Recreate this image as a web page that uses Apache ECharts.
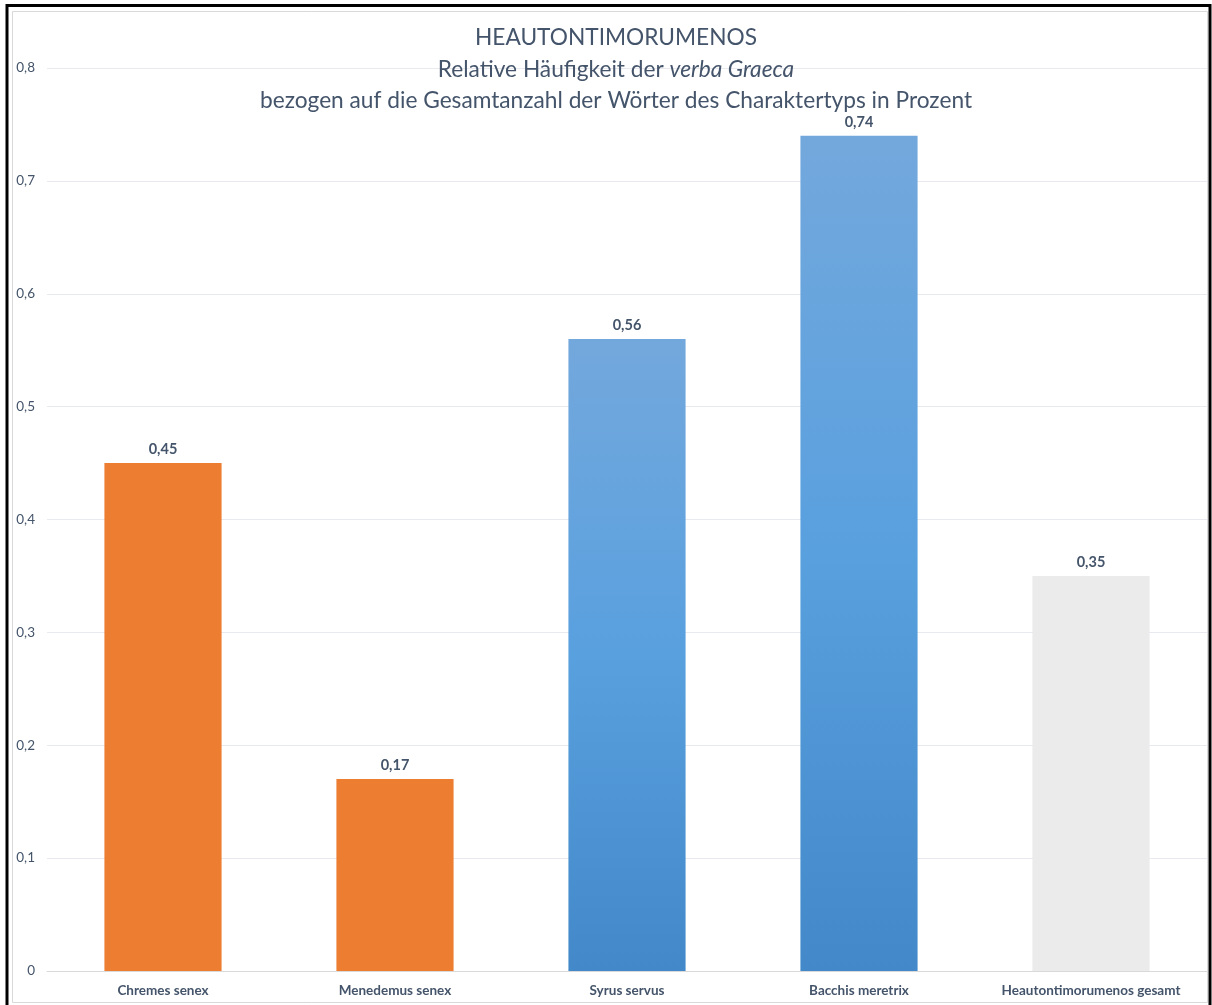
<!DOCTYPE html>
<html>
<head>
<meta charset="utf-8">
<script src="https://cdn.jsdelivr.net/npm/echarts@6/dist/echarts.min.js"></script>
<style>
  html, body { margin: 0; padding: 0; background: #fff; }
  #chart { width: 1212px; height: 1005px; }
</style>
</head>
<body>
<div id="chart"></div>
<script>
// Character types and their share of Greek words (percent of all words of the type)
const categories = ['Chremes senex', 'Menedemus senex', 'Syrus servus', 'Bacchis meretrix', 'Heautontimorumenos gesamt'];
const values = [0.45, 0.17, 0.56, 0.74, 0.35];
const groups = ['senex', 'senex', 'other', 'other', 'total'];
const yTicks = [0, 0.1, 0.2, 0.3, 0.4, 0.5, 0.6, 0.7, 0.8];

const FONT = 'Lato, "Open Sans", sans-serif';
const TEXT = '#44546A';

const blueFill = {
  type: 'linear', x: 0, y: 0, x2: 0, y2: 1,
  colorStops: [
    { offset: 0, color: '#73A8DC' },
    { offset: 0.5, color: '#59A0DF' },
    { offset: 1, color: '#4389C9' }
  ]
};
const fills = { senex: '#ED7D31', other: blueFill, total: '#EBEBEB' };

const comma = v => String(v).replace('.', ',');

const chart = echarts.init(document.getElementById('chart'), null, { renderer: 'canvas' });
chart.setOption({
  backgroundColor: '#fff',
  animation: false,
  title: {
    text: 'HEAUTONTIMORUMENOS\n{n|Relative Häufigkeit der }{i|verba Graeca}\n{n|bezogen auf die Gesamtanzahl der Wörter des Charaktertyps in Prozent}',
    left: 611,
    textAlign: 'center',
    top: 17,
    textStyle: {
      fontFamily: FONT,
      fontSize: 22.7,
      fontWeight: 'normal',
      color: TEXT,
      lineHeight: 31.5,
      rich: {
        n: { fontFamily: FONT, fontSize: 22.7, color: TEXT, lineHeight: 31.5 },
        i: { fontFamily: FONT, fontSize: 22.7, color: TEXT, fontStyle: 'italic', lineHeight: 31.5 }
      }
    }
  },
  graphic: [
    {
      type: 'rect', silent: true, z: -1,
      shape: { x: 12.5, y: 11.5, width: 1195, height: 991 },
      style: { fill: 'none', stroke: '#D9D9D9', lineWidth: 1 }
    },
    {
      type: 'rect', silent: true, z: 100,
      shape: { x: 7, y: 5.5, width: 1203, height: 1010 },
      style: { fill: 'none', stroke: '#000', lineWidth: 3 }
    }
  ],
  grid: { left: 47, right: 5, top: 68, bottom: 34, containLabel: false },
  xAxis: {
    type: 'category',
    data: categories,
    axisTick: { show: false },
    axisLine: { show: true, lineStyle: { color: '#D9D9D9', width: 1 } },
    axisLabel: {
      fontFamily: FONT, fontSize: 13.5, fontWeight: 'bold', color: TEXT, margin: 13, interval: 0
    }
  },
  yAxis: {
    type: 'value',
    min: 0, max: 0.8, interval: 0.1,
    axisLine: { show: false },
    axisTick: { show: false },
    splitLine: { lineStyle: { color: '#E8EAF0', width: 1 } },
    axisLabel: {
      fontFamily: FONT, fontSize: 13.5, color: TEXT, margin: 12,
      formatter: v => {
        const t = yTicks.find(x => Math.abs(x - v) < 1e-9);
        return comma(t !== undefined ? t : +v.toFixed(1));
      }
    }
  },
  series: [{
    type: 'bar',
    barWidth: '50.5%',
    data: values.map((v, i) => ({ value: v, itemStyle: { color: fills[groups[i]] } })),
    label: {
      show: true, position: 'top', distance: 6,
      fontFamily: FONT, fontSize: 14.5, fontWeight: 'bold', color: TEXT,
      formatter: p => comma(p.value)
    }
  }]
});
</script>
</body>
</html>
